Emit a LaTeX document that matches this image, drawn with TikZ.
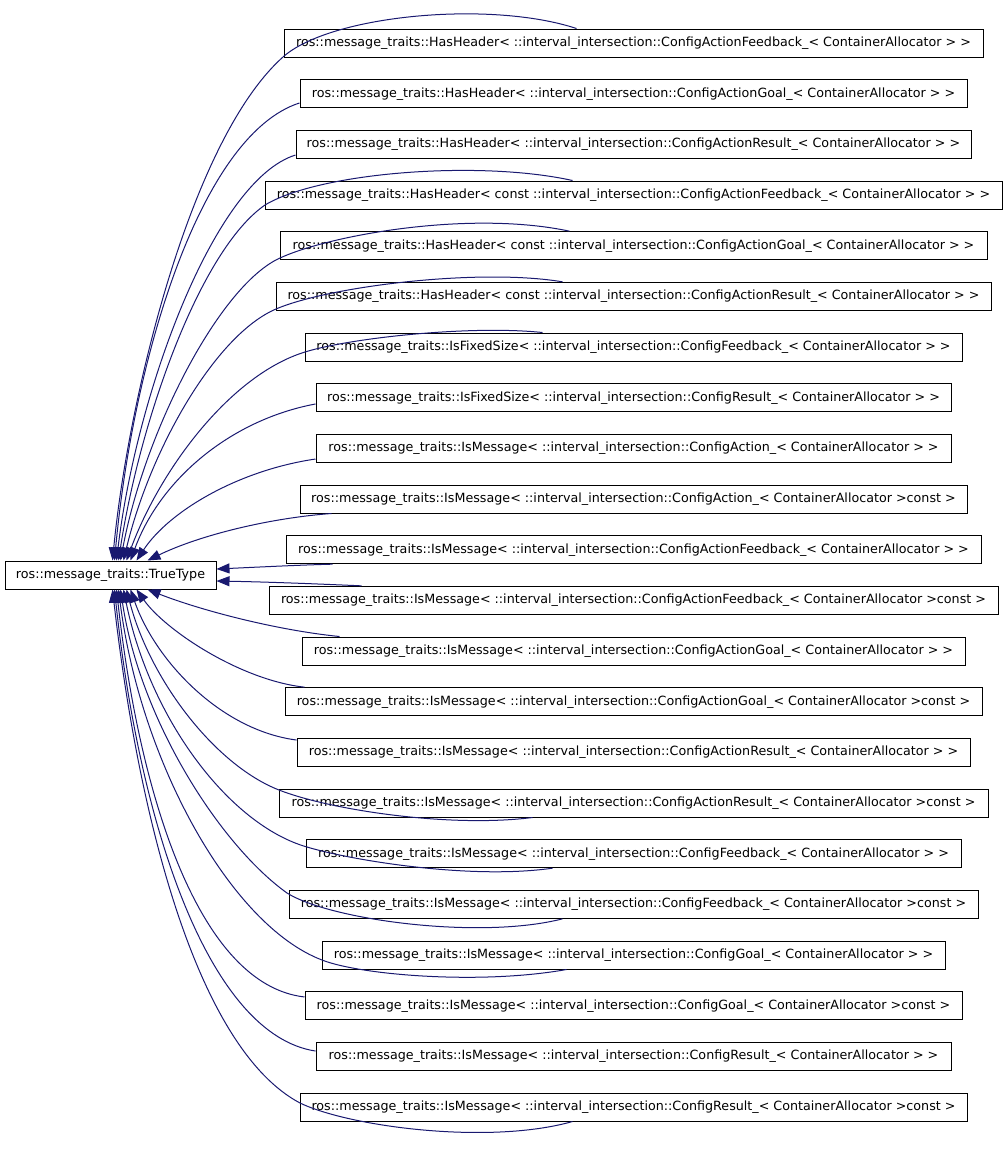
\documentclass[tikz,border=0pt]{standalone}
\usepackage{fontspec}
\setmainfont{DejaVu Sans}
\usetikzlibrary{arrows.meta}
\definecolor{edgeblue}{RGB}{25,25,112}
\begin{document}
\begin{tikzpicture}[x=1pt,y=-1pt,
  box/.style={draw=black, fill=white, line width=1pt, minimum height=28pt, inner sep=0pt, font=\fontsize{12.7}{15}\selectfont},
  edge/.style={draw=edgeblue, line width=1pt, arrows={Triangle[length=13pt,width=10pt]-}}]
\useasboundingbox (0,0) rectangle (1008,1149);
\node[box, minimum width=211pt] (tt) at (110.5,575) {ros::message\_traits::TrueType};
\node[box, minimum width=699pt] (b1) at (633.5,43) {ros::message\_traits::HasHeader< ::interval\_intersection::ConfigActionFeedback\_< ContainerAllocator > >};
\node[box, minimum width=667pt] (b2) at (633.5,93.67) {ros::message\_traits::HasHeader< ::interval\_intersection::ConfigActionGoal\_< ContainerAllocator > >};
\node[box, minimum width=675pt] (b3) at (633.5,144.33) {ros::message\_traits::HasHeader< ::interval\_intersection::ConfigActionResult\_< ContainerAllocator > >};
\node[box, minimum width=737pt] (b4) at (633.5,195) {ros::message\_traits::HasHeader< const ::interval\_intersection::ConfigActionFeedback\_< ContainerAllocator > >};
\node[box, minimum width=707pt] (b5) at (633.5,245.67) {ros::message\_traits::HasHeader< const ::interval\_intersection::ConfigActionGoal\_< ContainerAllocator > >};
\node[box, minimum width=715pt] (b6) at (633.5,296.33) {ros::message\_traits::HasHeader< const ::interval\_intersection::ConfigActionResult\_< ContainerAllocator > >};
\node[box, minimum width=657pt] (b7) at (633.5,347) {ros::message\_traits::IsFixedSize< ::interval\_intersection::ConfigFeedback\_< ContainerAllocator > >};
\node[box, minimum width=635pt] (b8) at (633.5,397.67) {ros::message\_traits::IsFixedSize< ::interval\_intersection::ConfigResult\_< ContainerAllocator > >};
\node[box, minimum width=635pt] (b9) at (633.5,448.33) {ros::message\_traits::IsMessage< ::interval\_intersection::ConfigAction\_< ContainerAllocator > >};
\node[box, minimum width=667pt] (b10) at (633.5,499) {ros::message\_traits::IsMessage< ::interval\_intersection::ConfigAction\_< ContainerAllocator >const >};
\node[box, minimum width=695pt] (b11) at (633.5,549.67) {ros::message\_traits::IsMessage< ::interval\_intersection::ConfigActionFeedback\_< ContainerAllocator > >};
\node[box, minimum width=729pt] (b12) at (633.5,600.33) {ros::message\_traits::IsMessage< ::interval\_intersection::ConfigActionFeedback\_< ContainerAllocator >const >};
\node[box, minimum width=663pt] (b13) at (633.5,651) {ros::message\_traits::IsMessage< ::interval\_intersection::ConfigActionGoal\_< ContainerAllocator > >};
\node[box, minimum width=697pt] (b14) at (633.5,701.67) {ros::message\_traits::IsMessage< ::interval\_intersection::ConfigActionGoal\_< ContainerAllocator >const >};
\node[box, minimum width=673pt] (b15) at (633.5,752.33) {ros::message\_traits::IsMessage< ::interval\_intersection::ConfigActionResult\_< ContainerAllocator > >};
\node[box, minimum width=709pt] (b16) at (633.5,803) {ros::message\_traits::IsMessage< ::interval\_intersection::ConfigActionResult\_< ContainerAllocator >const >};
\node[box, minimum width=655pt] (b17) at (633.5,853.67) {ros::message\_traits::IsMessage< ::interval\_intersection::ConfigFeedback\_< ContainerAllocator > >};
\node[box, minimum width=689pt] (b18) at (633.5,904.33) {ros::message\_traits::IsMessage< ::interval\_intersection::ConfigFeedback\_< ContainerAllocator >const >};
\node[box, minimum width=623pt] (b19) at (633.5,955) {ros::message\_traits::IsMessage< ::interval\_intersection::ConfigGoal\_< ContainerAllocator > >};
\node[box, minimum width=657pt] (b20) at (633.5,1005.67) {ros::message\_traits::IsMessage< ::interval\_intersection::ConfigGoal\_< ContainerAllocator >const >};
\node[box, minimum width=635pt] (b21) at (633.5,1056.33) {ros::message\_traits::IsMessage< ::interval\_intersection::ConfigResult\_< ContainerAllocator > >};
\node[box, minimum width=667pt] (b22) at (633.5,1107) {ros::message\_traits::IsMessage< ::interval\_intersection::ConfigResult\_< ContainerAllocator >const >};
% edges (arrow at TrueType)
\draw[edge] ([xshift=108pt]tt.north west) .. controls (128,400) and (190,140) .. (283,57) .. controls (330,15) and (490,0) .. ([xshift=293pt]b1.north west);
\draw[edge] ([xshift=110pt]tt.north west) .. controls (133,360) and (200,135) .. ([yshift=-9.3pt]b2.west);
\draw[edge] ([xshift=112pt]tt.north west) .. controls (137,390) and (215,180) .. ([yshift=-10.7pt]b3.west);
\draw[edge] ([xshift=114pt]tt.north west) .. controls (140,420) and (200,250) .. (265,205) .. controls (320,172) and (480,160) .. ([xshift=308pt]b4.north west);
\draw[edge] ([xshift=116pt]tt.north west) .. controls (145,430) and (220,285) .. (280,258) .. controls (330,235) and (470,210) .. ([xshift=290pt]b5.north west);
\draw[edge] ([xshift=119pt]tt.north west) .. controls (150,450) and (215,335) .. (276,309) .. controls (330,286) and (480,268) .. ([xshift=287pt]b6.north west);
\draw[edge] ([xshift=122pt]tt.north west) .. controls (160,470) and (230,375) .. (305,352) .. controls (350,338) and (470,325) .. ([xshift=238pt]b7.north west);
\draw[edge] ([xshift=126pt]tt.north west) .. controls (160,480) and (230,420) .. ([yshift=-6.3pt]b8.west);
\draw[edge] ([xshift=132pt]tt.north west) .. controls (170,510) and (240,470) .. ([yshift=-10.7pt]b9.west);
\draw[edge] ([xshift=143pt]tt.north west) .. controls (200,535) and (270,518) .. ([xshift=32pt]b10.south west);
\draw[edge] ([yshift=6pt]tt.east) .. controls (260,567) and (300,565) .. ([xshift=47pt]b11.south west);
\draw[edge] ([yshift=-6pt]tt.east) .. controls (270,582) and (320,584) .. ([xshift=93pt]b12.north west);
\draw[edge] ([xshift=143pt]tt.south west) .. controls (200,610) and (275,630) .. ([xshift=38pt]b13.north west);
\draw[edge] ([xshift=132pt]tt.south west) .. controls (165,630) and (240,680) .. ([xshift=20pt]b14.north west);
\draw[edge] ([xshift=126pt]tt.south west) .. controls (155,660) and (220,730) .. ([yshift=12.3pt]b15.west);
\draw[edge] ([xshift=122pt]tt.south west) .. controls (150,680) and (215,765) .. (279,790) .. controls (330,810) and (450,828) .. ([xshift=254pt]b16.south west);
\draw[edge] ([xshift=119pt]tt.south west) .. controls (150,720) and (230,825) .. (307,847) .. controls (350,860) and (470,880) .. ([xshift=247pt]b17.south west);
\draw[edge] ([xshift=116pt]tt.south west) .. controls (140,720) and (220,845) .. (287,893) .. controls (330,920) and (480,940) .. ([xshift=274pt]b18.south west);
\draw[edge] ([xshift=114pt]tt.south west) .. controls (140,760) and (230,925) .. (322,960) .. controls (360,975) and (480,985) .. ([xshift=245pt]b19.south west);
\draw[edge] ([xshift=112pt]tt.south west) .. controls (140,800) and (200,985) .. ([yshift=8.7pt]b20.west);
\draw[edge] ([xshift=110pt]tt.south west) .. controls (140,830) and (210,1035) .. ([yshift=5.3pt]b21.west);
\draw[edge] ([xshift=108pt]tt.south west) .. controls (140,830) and (200,1050) .. (300,1103) .. controls (350,1127) and (490,1145) .. ([xshift=273pt]b22.south west);
\end{tikzpicture}
\end{document}
